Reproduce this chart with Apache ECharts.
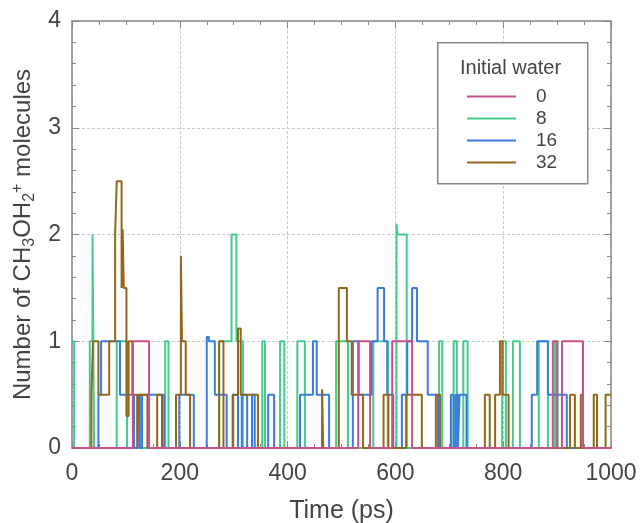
<!DOCTYPE html>
<html>
<head>
<meta charset="utf-8">
<script src="https://cdn.jsdelivr.net/npm/echarts@6/dist/echarts.min.js"></script>
<style>html,body{margin:0;padding:0;background:#fff;}#c{width:640px;height:523px;}</style>
</head>
<body>
<div id="c"></div>
<script>
// Step-series data: time (ps) where the value changes, and the value held from then on
const seriesNames = ['0', '8', '16', '32'];
const times0  = [0, 113, 143, 531, 553, 594, 631, 892, 900, 909, 948, 1000];
const values0 = [0, 1, 0, 1, 0, 1, 0, 1, 0, 1, 0, 0];
const times8  = [0, 4, 33, 38, 41, 83, 102, 173, 179, 273, 296, 305, 317, 353, 358, 386, 394, 418, 432, 490, 512, 559, 586, 602, 604, 621, 681, 687, 708, 714, 726, 734, 798, 805, 818, 831, 866, 883, 896, 901, 1000];
const values8 = [1, 0, 1, 2, 0, 1, 0, 1, 0, 1, 2, 1, 0, 1, 0, 1, 0, 1, 0, 1, 0, 1, 0, 2.1, 2, 0, 1, 0, 1, 0, 1, 0, 1, 0, 1, 0, 1, 0, 1, 0, 0];
const times16  = [0, 49, 54, 89, 115, 122, 126, 130, 171, 199, 226, 250, 254, 265, 287, 298, 308, 315, 325, 334, 339, 364, 375, 423, 447, 454, 477, 521, 532, 556, 567, 579, 585, 596, 612, 622, 631, 640, 660, 679, 703, 708, 712, 716, 719, 732, 853, 863, 883, 918, 1000];
const values16 = [0, 0.5, 1, 0.5, 0, 0.5, 0, 0.5, 0, 0.5, 0, 1.04, 1, 0.5, 0, 0.5, 0, 0.5, 0, 0.5, 0, 0.5, 0, 0.5, 1, 0.5, 0, 1, 0.5, 1, 1.5, 1, 0.5, 0, 0.5, 1, 1.5, 1, 0.5, 0, 0.5, 0, 0.5, 0, 0.5, 0, 0.5, 1, 0.5, 0, 0];
const times32  = [0, 36, 39, 49, 69, 80, 83, 92, 94, 96, 101, 105, 112, 121, 124, 140, 158, 167, 193, 202, 204, 211, 219, 273, 281, 299, 308, 313, 345, 464, 466, 495, 510, 519, 540, 578, 587, 620, 649, 675, 683, 766, 775, 785, 794, 799, 810, 924, 933, 944, 948, 968, 974, 990, 1000];
const values32 = [0, 0.5, 1, 0.5, 1, 2, 2.5, 1.5, 2.05, 1.5, 0.3, 1, 0.5, 0, 0.5, 0, 0.5, 0, 0.5, 1.8, 1, 0.5, 0, 1, 0, 0.5, 1.12, 0.5, 0, 0.55, 0, 1.5, 1, 0.5, 0, 0.5, 0, 0.5, 0, 0.5, 0, 0.5, 0, 0.5, 1, 0.5, 0, 0.5, 0, 0.5, 0, 0.5, 0, 0.5, 0.5];
const xTicks = [0, 200, 400, 600, 800, 1000];
const yTicks = [0, 1, 2, 3, 4];

const colors = ['#c9508b', '#45cc8c', '#3a7be0', '#93671b'];
const allTimes = [times0, times8, times16, times32];
const allValues = [values0, values8, values16, values32];
const zs = [6, 3, 4, 5];

const FONT = '"Liberation Sans", Arial, Helvetica, sans-serif';
const axisColor = '#888';

const chart = echarts.init(document.getElementById('c'), null, {renderer: 'canvas'});

const series = seriesNames.map((n, i) => ({
  name: n,
  type: 'line',
  step: 'end',
  symbol: 'none',
  z: zs[i],
  lineStyle: {color: colors[i], width: 2},
  itemStyle: {color: colors[i]},
  data: allTimes[i].map((t, k) => [t, allValues[i][k]])
}));

const baseX = {
  type: 'value', min: xTicks[0], max: xTicks[xTicks.length - 1], interval: 200,
  axisLine: {show: true, onZero: false, lineStyle: {color: axisColor, width: 1.5}},
  axisTick: {show: true, inside: true, length: 7, lineStyle: {color: axisColor, width: 1}},
  minorTick: {show: true, splitNumber: 4, length: 4, lineStyle: {color: axisColor, width: 1}},
};
const baseY = {
  type: 'value', min: yTicks[0], max: yTicks[yTicks.length - 1], interval: 1,
  axisLine: {show: true, onZero: false, lineStyle: {color: axisColor, width: 1.5}},
  axisTick: {show: true, inside: true, length: 7, lineStyle: {color: axisColor, width: 1}},
  minorTick: {show: true, splitNumber: 5, length: 4, lineStyle: {color: axisColor, width: 1}},
};

const option = {
  animation: false,
  backgroundColor: '#fff',
  textStyle: {fontFamily: FONT},
  grid: {left: 72, right: 29, top: 21, bottom: 75, containLabel: false, outerBoundsMode: 'none'},
  xAxis: [
    Object.assign({}, baseX, {
      position: 'bottom',
      name: 'Time (ps)', nameLocation: 'middle', nameGap: 51,
      nameTextStyle: {fontSize: 25, color: '#444', fontFamily: FONT},
      axisLabel: {show: true, margin: 14, fontSize: 23, color: '#444', fontFamily: FONT,
                  formatter: v => String(v)},
      splitLine: {show: true, lineStyle: {color: '#c8c8c8', type: [3, 2], width: 1}}
    }),
    Object.assign({}, baseX, {
      position: 'top',
      axisLabel: {show: false},
      splitLine: {show: false}
    })
  ],
  yAxis: [
    Object.assign({}, baseY, {
      position: 'left',
      name: '{n|Number of CH}{sub|3}{n|OH}{sub|2}{sup|+}{n| molecules}',
      nameLocation: 'middle', nameGap: 27, nameRotate: 90,
      nameTextStyle: {
        fontSize: 24, color: '#444', fontFamily: FONT,
        rich: {
          n: {fontSize: 24, color: '#444', fontFamily: FONT, lineHeight: 28},
          sub: {fontSize: 16, color: '#444', fontFamily: FONT, verticalAlign: 'bottom', lineHeight: 28},
          sup: {fontSize: 16, color: '#444', fontFamily: FONT, verticalAlign: 'top', lineHeight: 28}
        }
      },
      axisLabel: {show: true, margin: 11, fontSize: 23, color: '#444', fontFamily: FONT},
      splitLine: {show: true, lineStyle: {color: '#c8c8c8', type: [3, 2], width: 1}}
    }),
    Object.assign({}, baseY, {
      position: 'right',
      axisLabel: {show: false},
      splitLine: {show: false}
    })
  ],
  legend: {
    orient: 'vertical',
    left: 467, top: 87,
    padding: 0,
    itemWidth: 49, itemHeight: 14, itemGap: 3,
    icon: 'path://M0,6 L49,6 L49,8 L0,8 Z',
    data: seriesNames,
    textStyle: {fontSize: 19, color: '#444', fontFamily: FONT, padding: [0, 0, 0, 15]},
    z: 10
  },
  graphic: [
    {type: 'rect', left: 437, top: 42, z: 9,
     shape: {width: 150, height: 141},
     style: {fill: '#fff', stroke: '#888', lineWidth: 1.5}},
    {type: 'text', z: 10,
     left: 460, top: 58,
     style: {text: 'Initial water', fontSize: 20, fill: '#444', fontFamily: FONT}}
  ],
  series: series
};
chart.setOption(option);
</script>
</body>
</html>
